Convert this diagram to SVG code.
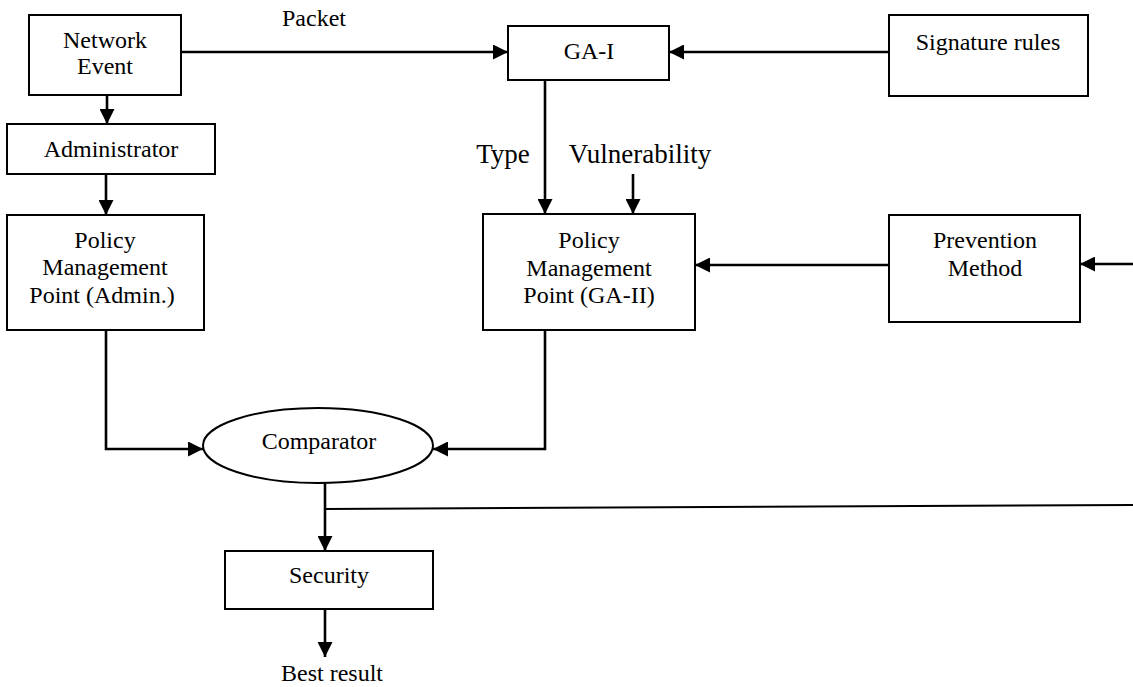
<svg xmlns="http://www.w3.org/2000/svg" width="1133" height="687" viewBox="0 0 1133 687">
<style>
.box{fill:#fff;stroke:#000;stroke-width:2}
.t{font-family:"Liberation Serif","Times New Roman",serif;font-size:24px;fill:#000;text-anchor:middle}
.tl{font-family:"Liberation Serif","Times New Roman",serif;font-size:27px;fill:#000;text-anchor:middle}
.c{fill:none;stroke:#000;stroke-width:2.6}
.thin{fill:none;stroke:#000;stroke-width:2}
</style>
<defs>
<marker id="ah" markerUnits="userSpaceOnUse" markerWidth="15" markerHeight="15" refX="14" refY="7" orient="auto" viewBox="0 0 14 14">
<path d="M0,0 L14,7 L0,14 z" fill="#000"/>
</marker>
</defs>
<rect width="1133" height="687" fill="#fff"/>
<g id="connectors">
<line class="c" x1="181" y1="52" x2="508" y2="52" marker-end="url(#ah)"/>
<line class="c" x1="889" y1="52" x2="669" y2="52" marker-end="url(#ah)"/>
<line class="c" x1="107" y1="95" x2="107" y2="124" marker-end="url(#ah)"/>
<line class="c" x1="106" y1="174" x2="106" y2="215" marker-end="url(#ah)"/>
<line class="c" x1="545" y1="80" x2="545" y2="214" marker-end="url(#ah)"/>
<line class="c" x1="633" y1="174" x2="633" y2="214" marker-end="url(#ah)"/>
<line class="c" x1="889" y1="265" x2="695" y2="265" marker-end="url(#ah)"/>
<line class="c" x1="1133" y1="264" x2="1080" y2="264" marker-end="url(#ah)"/>
<polyline class="c" points="106,330 106,449 203,449" marker-end="url(#ah)"/>
<polyline class="c" points="545,330 545,449 433,449" marker-end="url(#ah)"/>
<line class="c" x1="325" y1="483" x2="325" y2="551" marker-end="url(#ah)"/>
<line class="thin" x1="325" y1="509" x2="1133" y2="505"/>
<line class="c" x1="325" y1="609" x2="325" y2="657" marker-end="url(#ah)"/>
<text class="t" x="314" y="26">Packet</text>
<text class="tl" x="503" y="163">Type</text>
<text class="tl" x="640" y="163">Vulnerability</text>
<text class="t" x="332" y="681">Best result</text>
</g>
<g id="network-event">
<rect class="box" x="29" y="15" width="152" height="80"/>
<text class="t" x="105" y="48">Network</text>
<text class="t" x="105" y="74">Event</text>
</g>
<g id="administrator">
<rect class="box" x="7" y="124" width="208" height="50"/>
<text class="t" x="111" y="157">Administrator</text>
</g>
<g id="pmp-admin">
<rect class="box" x="7" y="215" width="197" height="115"/>
<text class="t" x="105" y="248">Policy</text>
<text class="t" x="105" y="275">Management</text>
<text class="t" x="102" y="303">Point (Admin.)</text>
</g>
<g id="ga-i">
<rect class="box" x="508" y="26" width="161" height="54"/>
<text class="t" x="589" y="59">GA-I</text>
</g>
<g id="signature-rules">
<rect class="box" x="889" y="15" width="199" height="81"/>
<text class="t" x="988" y="50">Signature rules</text>
</g>
<g id="pmp-ga-ii">
<rect class="box" x="483" y="214" width="212" height="116"/>
<text class="t" x="589" y="248">Policy</text>
<text class="t" x="589" y="276">Management</text>
<text class="t" x="589" y="303">Point (GA-II)</text>
</g>
<g id="prevention-method">
<rect class="box" x="889" y="215" width="191" height="107"/>
<text class="t" x="985" y="248">Prevention</text>
<text class="t" x="985" y="276">Method</text>
</g>
<g id="comparator">
<ellipse class="box" cx="318" cy="445.5" rx="115" ry="37.5"/>
<text class="t" x="319" y="449">Comparator</text>
</g>
<g id="security">
<rect class="box" x="225" y="551" width="208" height="58"/>
<text class="t" x="329" y="583">Security</text>
</g>
</svg>
